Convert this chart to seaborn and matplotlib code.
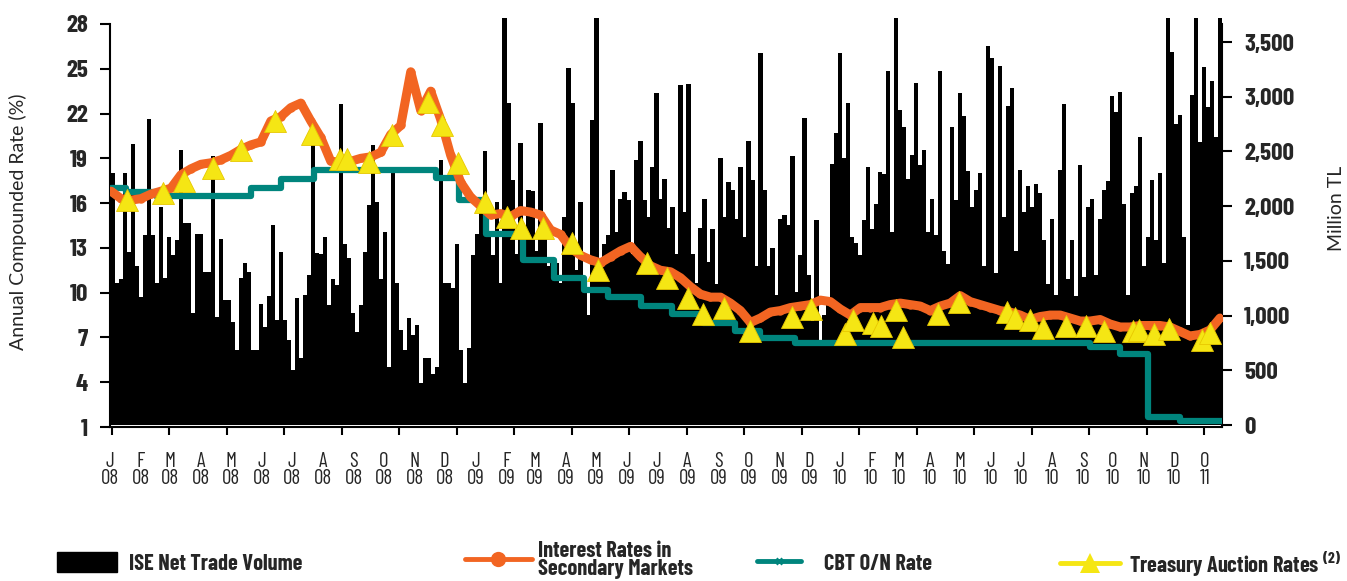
import numpy as np
import pandas as pd
import matplotlib
matplotlib.use("Agg")
import matplotlib.pyplot as plt
import seaborn as sns
from matplotlib.patches import Patch
from matplotlib.lines import Line2D
from matplotlib.ticker import FuncFormatter

# ISE net trade volume (million TL), evenly spaced samples Jan 2008 - Jan 2011
volume = [
    2300, 1300, 1330, 2300, 1580, 2570, 1450, 1170, 1740, 2800, 1740, 1300, 1990, 1340, 1720, 1550,
    1690, 2510, 1850, 1850, 1020, 1750, 1750, 1400, 1400, 2460, 990, 1700, 1140, 1140, 940, 690,
    1340, 1480, 1400, 690, 690, 1110, 900, 1180, 1830, 960, 1580, 960, 780, 500, 1160, 610,
    1190, 1370, 2700, 1570, 1560, 1720, 1100, 1330, 1280, 2930, 1650, 1530, 1020, 850, 1100, 1580,
    2010, 2560, 2040, 1330, 1760, 530, 2330,
    1300, 870, 690, 980, 820, 910, 380, 610, 610, 470, 530, 2420, 1300, 1300, 1250, 1650,
    690, 380, 700, 1550, 1750, 2060, 2500, 1720, 1550, 2040, 1300, 3720, 2940, 2240, 1560, 2580,
    1760, 2150, 2140, 1590, 2760, 1760, 1450, 1480, 1480, 1300, 1900, 3260, 2940, 1420, 2040, 1220,
    1010, 2790, 3720, 1450, 1650, 1740, 2330, 1760, 2070, 2130, 2060, 1560, 2420, 2600, 2060, 1900,
    2360, 3030, 2070, 2250, 1800, 1990,
    1560, 3110, 1950, 3120, 1560, 1300, 1800, 2070, 1490, 1790, 1290, 2440, 1900, 2220, 2150, 1880,
    2360, 1720, 2600, 2240, 1450, 3400, 2150, 1450, 1620, 1190, 1880, 1920, 1830, 2460, 1220, 1550,
    2810, 1370, 950, 1870, 780, 1010, 1160, 2390, 2670, 3400, 2440, 2940, 1720, 1660, 1550, 1870,
    2360, 1790, 2020, 2310, 2290, 3240, 1760, 3720, 2880, 2720, 2250, 2470, 3130, 2380, 2510, 1760,
    2070, 1740, 3240, 1590, 1470, 2720,
    2060, 3030, 2820, 2320, 1990, 2150, 2300, 1450, 3460, 3350, 1390, 3280, 1900, 2920, 3080, 1590,
    2330, 1950, 2180, 1990, 2200, 2120, 1690, 1290, 1880, 1190, 2330, 2930, 1330, 1690, 1180, 2380,
    1350, 1990, 2070, 1370, 1880, 2150, 2230, 3010, 2860, 3040, 2020, 1190, 2120, 2180, 2630, 1450,
    1720, 2240, 1690, 2300, 1480, 3720, 3410, 2750, 2830, 1720, 910, 3020, 3720, 2590, 3270, 2910,
    3140, 2630, 3720,
]

# Interest rates in secondary markets (%), evenly spaced samples
secondary = [
    16.8, 16.3, 16.2, 16.3, 16.6, 16.8, 17.0, 17.9, 18.3, 18.6, 18.7, 18.9, 19.2, 19.6, 19.9, 20.1,
    21.5, 21.8, 22.4, 22.7, 21.5, 20.4, 18.8, 18.75, 18.8, 19.0, 19.1, 19.4, 20.6, 21.2, 24.8, 22.2,
    23.5, 21.6, 19.2, 17.4, 16.4, 15.8, 15.2, 15.3, 15.1, 15.5, 15.4, 15.2, 14.2, 13.9, 13.0, 12.5,
    12.2, 12.0, 12.4, 12.8, 13.1, 12.4, 11.8, 11.5, 11.4, 11.0, 10.4, 9.9, 9.7, 9.7, 9.3, 8.8,
    8.0, 8.3, 8.7, 8.8, 9.0, 9.1, 9.2, 9.5, 9.4, 8.9, 8.5, 9.0, 9.0, 9.0, 9.2, 9.3,
    9.2, 9.1, 8.8, 9.1, 9.3, 9.8, 9.4, 9.2, 9.0, 8.8, 8.7, 8.5, 8.2, 8.4, 8.5, 8.5,
    8.3, 8.1, 8.1, 8.2, 7.9, 7.7, 7.7, 7.8, 7.8, 7.8, 7.7, 7.4, 7.1, 7.2, 7.5, 8.3,
]

# CBT O/N rate (%): days since 1 Jan 2008 where each level starts
cbt_days = [1, 16, 46, 141, 171, 204, 326, 349, 376, 413, 444, 474, 498, 531, 563, 594,
            626, 651, 686, 981, 1011, 1039, 1071, 1113]
cbt_rate = [17.0, 16.75, 16.5, 17.0, 17.6, 18.2, 17.7, 16.2, 13.9, 12.2, 11.0, 10.2, 9.7, 9.1,
            8.6, 8.0, 7.45, 6.95, 6.6, 6.35, 5.9, 1.7, 1.4, 1.4]

# Treasury auction rates (%): auction day (days since 1 Jan 2008) and rate
auction_days = [17, 53, 74, 103, 131, 165, 202, 230, 237, 259, 282, 318, 332, 348, 375, 397,
                411, 433, 462, 488, 537, 558, 579, 594, 615, 641, 683, 702, 736, 744, 764, 772,
                787, 794, 829, 850, 898, 906, 921, 934, 957, 977, 995, 1024, 1030, 1045, 1060,
                1093, 1101]
auction_rate = [16.2, 16.7, 17.5, 18.35, 19.55, 21.5, 20.6, 18.95, 18.95, 18.75, 20.55, 22.8,
                21.2, 18.7, 16.1, 15.1, 14.3, 14.3, 13.3, 11.5, 12.0, 11.0, 9.65, 8.6, 9.0, 7.4,
                8.4, 8.9, 7.25, 8.2, 8.0, 7.8, 8.85, 7.0, 8.6, 9.4, 8.7, 8.3, 8.2, 7.6, 7.8, 7.8,
                7.4, 7.45, 7.5, 7.2, 7.55, 6.8, 7.3]

month_letters = ["J", "F", "M", "A", "M", "J", "J", "A", "S", "O", "N", "D"] * 3 + ["O"]
month_years = ["08"] * 12 + ["09"] * 12 + ["10"] * 12 + ["11"]

ORANGE = "#F26522"
TEAL = "#00857D"
YELLOW = "#F5E614"

sns.set_theme(style="white")
COND = ["Barlow Condensed", "DejaVu Sans"]
LAB = ["Lato", "DejaVu Sans"]
plt.rcParams["font.family"] = COND
plt.rcParams["mathtext.fontset"] = "custom"
plt.rcParams["mathtext.rm"] = "Barlow Condensed"
plt.rcParams["mathtext.bf"] = "Barlow Condensed:bold"

fig = plt.figure(figsize=(13.47, 5.81), dpi=100)
ax = fig.add_axes([110 / 1347, 154 / 581, 1112 / 1347, 403 / 581])
ax2 = ax.twinx()
ax.set_zorder(2)
ax.patch.set_visible(False)
ax2.set_zorder(1)

# volume bars (right axis)
vol_days = np.linspace(3, 1111, len(volume))
ax2.bar(vol_days, volume, width=4.3, color="black", linewidth=0, clip_on=False)
ax2.set_ylim(-18, 3665)
ax2.set_yticks(np.arange(0, 3501, 500))
ax2.yaxis.set_major_formatter(FuncFormatter(lambda v, p: f"{int(v):,}"))

# rate lines (left axis)
sns.lineplot(x=cbt_days, y=cbt_rate, ax=ax, color=TEAL, linewidth=4.5,
             drawstyle="steps-post", zorder=3)
sec_days = np.linspace(1, 1111, len(secondary))
sns.lineplot(x=sec_days, y=secondary, ax=ax, color=ORANGE, linewidth=6.5,
             marker="o", markersize=6, markeredgewidth=0, zorder=4)
sns.scatterplot(x=auction_days, y=auction_rate, ax=ax, marker="^", s=250,
                color=YELLOW, edgecolor="#E8C800", linewidth=0.6, zorder=5)

ax.set_xlim(1, 1113)
ax.set_ylim(1, 28)
ax.set_yticks(np.arange(1, 29, 3))
ax.set_xlabel("")
ax.set_ylabel("")

# tick marks every ~57.5 days, month labels at month starts
ax.set_xticks(2 + 57.53 * np.arange(20))
ax.set_xticklabels([])
months = pd.date_range("2008-01-01", "2011-01-01", freq="MS")
mpos = (months - months[0]).days.values
ax.set_xticks(mpos, [f"{m}\n{y}" for m, y in zip(month_letters, month_years)], minor=True)
ax.tick_params(axis="x", which="major", direction="out", length=6, width=1.5, color="black",
               bottom=True)
ax.tick_params(axis="x", which="minor", length=0, pad=18, labelsize=15)
for t in ax.get_xticklabels(minor=True):
    t.set_linespacing(0.9)

ax.tick_params(axis="y", direction="out", length=7, width=1.5, color="black", pad=9,
               labelsize=18, left=True)
ax2.tick_params(axis="y", direction="out", length=7, width=1.5, color="black", pad=9,
                labelsize=18, right=True)
for t in ax.get_yticklabels() + ax2.get_yticklabels():
    t.set_fontweight("bold")

for a in (ax, ax2):
    a.spines["top"].set_visible(False)
    for s in ("left", "bottom", "right"):
        a.spines[s].set_color("black")
        a.spines[s].set_linewidth(1.5)
ax.spines["right"].set_visible(False)
ax2.spines["left"].set_visible(False)
ax2.spines["bottom"].set_visible(False)

fig.text(18 / 1347, 1 - 222 / 581, "Annual Compounded Rate (%)", rotation=90,
         ha="center", va="center", fontsize=14, family=LAB)
fig.text(1337 / 1347, 1 - 208 / 581, "Million TL", rotation=90,
         ha="center", va="center", fontsize=14, family=LAB)

# legend along the bottom
leg_font = dict(size=16, weight="bold", family=COND)
items = [
    (Patch(facecolor="black", edgecolor="black"), "ISE Net Trade Volume", 57, 563, 2.7, 0.55),
    (Line2D([], [], color=ORANGE, lw=3.5, marker="o", markersize=11, markeredgewidth=0),
     "Interest Rates in\nSecondary Markets", 465, 560, 3.0, 0.3),
    (Line2D([], [], color=TEAL, lw=3.5, marker="x", markersize=5, markeredgewidth=2),
     "CBT O/N Rate", 757, 563, 2.0, 1.0),
    (Line2D([], [], color=YELLOW, lw=3.5, marker="^", markersize=15, markeredgewidth=0),
     r"Treasury Auction Rates $^{\mathbf{(2)}}$", 1060, 563, 2.7, 0.4),
]
for h, lbl, px, py, hl, tp in items:
    lg = fig.legend([h], [lbl], loc="center left", bbox_to_anchor=(px / 1347, 1 - py / 581),
                    frameon=False, prop=leg_font, handlelength=hl, handleheight=0.95,
                    handletextpad=tp, borderpad=0, borderaxespad=0)
    for t in lg.get_texts():
        t.set_linespacing(0.88)

fig.savefig("out.png", dpi=100, facecolor="white")
